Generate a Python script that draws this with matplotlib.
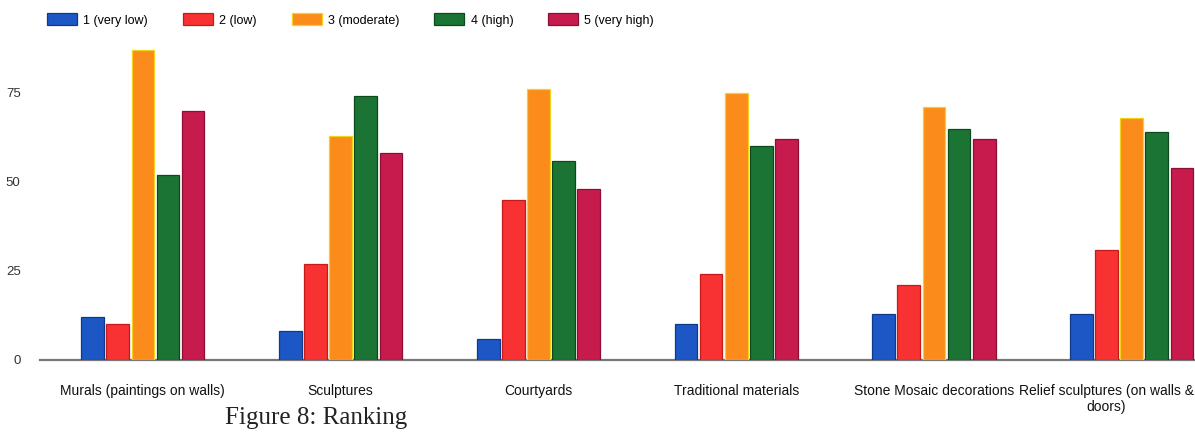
import numpy as np
import matplotlib
matplotlib.use("Agg")
import matplotlib.pyplot as plt

plt.rcParams["font.family"] = ["Liberation Sans", "DejaVu Sans"]

categories = [
    "Murals (paintings on walls)",
    "Sculptures",
    "Courtyards",
    "Traditional materials",
    "Stone Mosaic decorations",
    "Relief sculptures (on walls &\ndoors)",
]
series_names = ["1 (very low)", "2 (low)", "3 (moderate)", "4 (high)", "5 (very high)"]

very_low = [12, 8, 6, 10, 13, 13]
low = [10, 27, 45, 24, 21, 31]
moderate = [87, 63, 76, 75, 71, 68]
high = [52, 74, 56, 60, 65, 64]
very_high = [70, 58, 48, 62, 62, 54]

colors = ["#1d57c6", "#f83232", "#fb8c1c", "#1c7434", "#c71b4e"]
edges = ["#0f3a8c", "#c41a1a", "#f2d21a", "#0c4a1e", "#8e0f33"]

fig = plt.figure(figsize=(11.95, 4.46), dpi=100)
ax = fig.add_axes([0.0335, 0.193, 0.9665, 0.74])

x = np.arange(len(categories))
step = 0.127
width = 0.115
for i, (vals, col, ec, name) in enumerate(
    zip([very_low, low, moderate, high, very_high], colors, edges, series_names)
):
    ax.bar(x + (i - 2) * step, vals, width, color=col, edgecolor=ec,
           linewidth=0.9, label=name, zorder=3)

ax.set_xlim(-0.52, 5.32)
ax.set_ylim(0, 92.7)
ax.set_yticks([0, 25, 50, 75])
ax.tick_params(axis="y", length=0, pad=14, labelsize=9.5, labelcolor="#333333")
ax.set_xticks(x)
# the last category is written separately, flush with the right edge
ax.set_xticklabels(categories[:-1] + [""], fontsize=10, color="#111111")
ax.tick_params(axis="x", length=0, pad=17)
ax.annotate(categories[-1], xy=(5.315, 0), xycoords="data",
            xytext=(0, -17), textcoords="offset points",
            ha="right", va="top", multialignment="center",
            fontsize=10, color="#111111", annotation_clip=False)

for side in ["top", "right", "left"]:
    ax.spines[side].set_visible(False)
ax.spines["bottom"].set_color("#777777")
ax.spines["bottom"].set_linewidth(1.6)

fig.legend(loc="upper left", bbox_to_anchor=(0.03, 0.995), ncol=5, frameon=False,
           fontsize=9, handlelength=2.4, handleheight=1.1, columnspacing=2.8,
           handletextpad=0.5)

fig.text(0.188, 0.088, "Figure 8: Ranking", family="Liberation Serif",
         fontsize=18, color="#222222", va="top")

fig.savefig("out.png", dpi=100)
